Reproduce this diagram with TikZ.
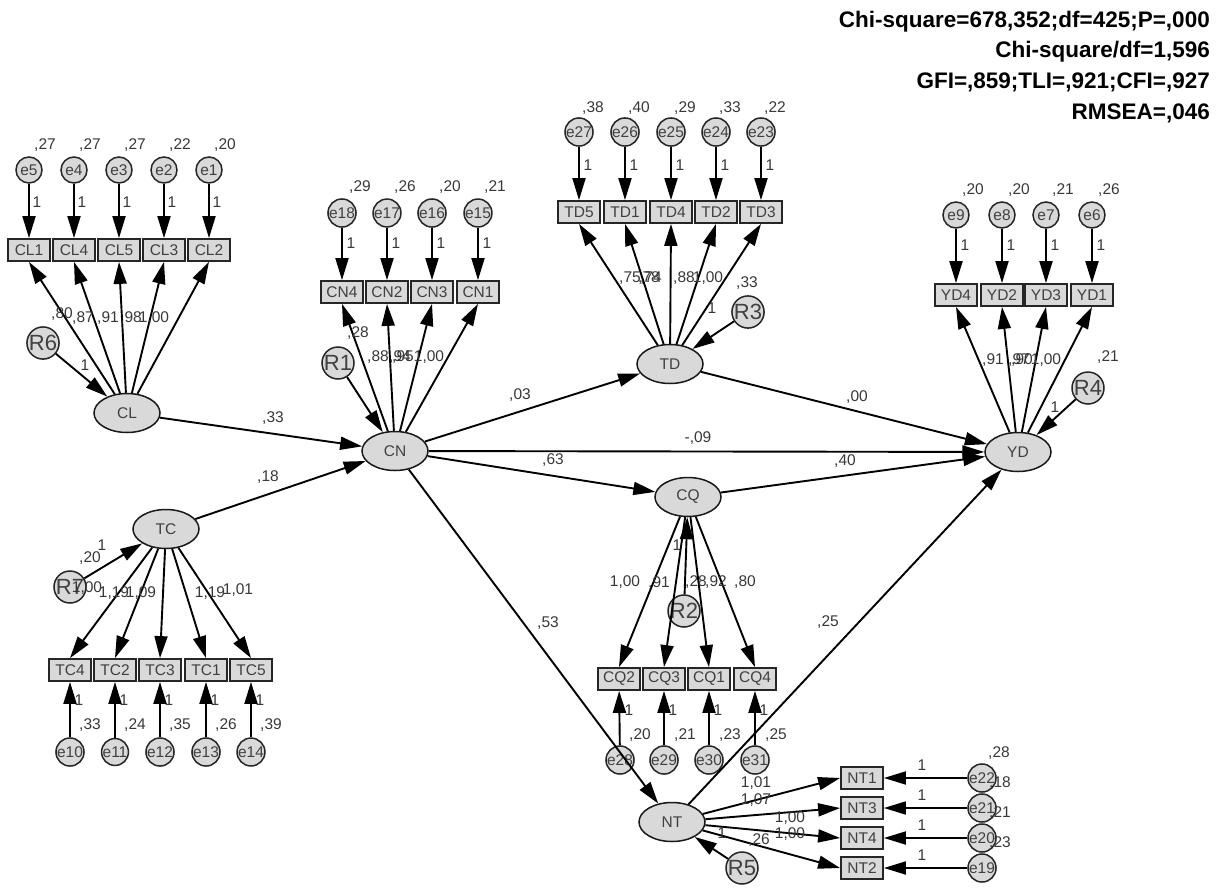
\documentclass[tikz,border=0pt]{standalone}
\usepackage{fontspec}
\setmainfont{Liberation Sans}
\usetikzlibrary{arrows.meta,shapes.geometric}
\begin{document}
\begin{tikzpicture}[x=1pt,y=-1pt,
  lat/.style={ellipse,draw=black!90,line width=1.5pt,fill=gray!30,minimum width=66pt,minimum height=39pt,inner sep=0pt,font=\fontsize{15.5}{15.5}\selectfont,text=black!75},
  obs/.style={rectangle,draw=black!85,line width=1.8pt,fill=gray!30,minimum width=42pt,minimum height=22pt,inner sep=0pt,font=\fontsize{15.5}{15.5}\selectfont,text=black!75},
  err/.style={circle,draw=black!85,line width=1.5pt,fill=gray!30,minimum size=26pt,inner sep=0pt,font=\fontsize{15.5}{15.5}\selectfont,text=black!75},
  res/.style={circle,draw=black!85,line width=1.5pt,fill=gray!30,minimum size=32pt,inner sep=0pt,font=\fontsize{22}{22}\selectfont,text=black!75},
  lab/.style={inner sep=0pt,font=\fontsize{15.5}{15.5}\selectfont,text=black!78},
  arr/.style={draw=black,line width=1.9pt,-{Triangle[length=22pt,width=13pt]}},
  fitt/.style={anchor=east,inner sep=0pt,font=\fontsize{22.5}{22.5}\selectfont\bfseries}
]
\useasboundingbox (0,0) rectangle (1219,892);
\fill[white] (0,0) rectangle (1219,892);

% ---------------- latent variables
\node[lat] (CL) at (127,413) {CL};
\node[lat] (CN) at (395,451) {CN};
\node[lat] (TD) at (670,364) {TD};
\node[lat] (YD) at (1018,452) {YD};
\node[lat] (TC) at (166,529) {TC};
\node[lat] (CQ) at (688,497) {CQ};
\node[lat] (NT) at (672,822) {NT};

% ---------------- residuals
\node[res] (R6) at (43,343) {R6};
\node[res] (R1) at (338,363) {R1};
\node[res] (R3) at (748,312) {R3};
\node[res] (R4) at (1088,388) {R4};
\node[res] (R7) at (70,587) {R7};
\node[res] (R2) at (684,611) {R2};
\node[res] (R5) at (742,868) {R5};

% ---------------- CL block
\node[obs] (CL1) at (29,250) {CL1};
\node[obs] (CL4) at (74,250) {CL4};
\node[obs] (CL5) at (119,250) {CL5};
\node[obs] (CL3) at (164,250) {CL3};
\node[obs] (CL2) at (209,250) {CL2};
\node[err] (e5) at (29,170) {e5};
\node[err] (e4) at (74,170) {e4};
\node[err] (e3) at (119,170) {e3};
\node[err] (e2) at (164,170) {e2};
\node[err] (e1) at (209,170) {e1};

% ---------------- CN block
\node[obs] (CN4) at (342,292) {CN4};
\node[obs] (CN2) at (387,292) {CN2};
\node[obs] (CN3) at (432,292) {CN3};
\node[obs] (CN1) at (478,292) {CN1};
\node[err] (e18) at (342,213) {e18};
\node[err] (e17) at (387,213) {e17};
\node[err] (e16) at (432,213) {e16};
\node[err] (e15) at (478,213) {e15};

% ---------------- TD block
\node[obs] (TD5) at (579,212) {TD5};
\node[obs] (TD1) at (625,212) {TD1};
\node[obs] (TD4) at (671,212) {TD4};
\node[obs] (TD2) at (716,212) {TD2};
\node[obs] (TD3) at (761,212) {TD3};
\node[err] (e27) at (579,132) {e27};
\node[err] (e26) at (625,132) {e26};
\node[err] (e25) at (671,132) {e25};
\node[err] (e24) at (716,132) {e24};
\node[err] (e23) at (761,132) {e23};

% ---------------- YD block
\node[obs] (YD4) at (956,295) {YD4};
\node[obs] (YD2) at (1002,295) {YD2};
\node[obs] (YD3) at (1046,295) {YD3};
\node[obs] (YD1) at (1092,295) {YD1};
\node[err] (e9) at (956,215) {e9};
\node[err] (e8) at (1002,215) {e8};
\node[err] (e7) at (1046,215) {e7};
\node[err] (e6) at (1092,215) {e6};

% ---------------- TC block
\node[obs] (TC4) at (70,670) {TC4};
\node[obs] (TC2) at (115,670) {TC2};
\node[obs] (TC3) at (160,670) {TC3};
\node[obs] (TC1) at (206,670) {TC1};
\node[obs] (TC5) at (251,670) {TC5};
\node[err] (e10) at (70,752) {e10};
\node[err] (e11) at (115,752) {e11};
\node[err] (e12) at (160,752) {e12};
\node[err] (e13) at (206,752) {e13};
\node[err] (e14) at (251,752) {e14};

% ---------------- CQ block
\node[obs] (CQ2) at (619,679) {CQ2};
\node[obs] (CQ3) at (664,679) {CQ3};
\node[obs] (CQ1) at (709,679) {CQ1};
\node[obs] (CQ4) at (755,679) {CQ4};
\node[err] (e28) at (620,760) {e28};
\node[err] (e29) at (664,760) {e29};
\node[err] (e30) at (709,760) {e30};
\node[err] (e31) at (755,760) {e31};

% ---------------- NT block
\node[obs] (NT1) at (862,778) {NT1};
\node[obs] (NT3) at (862,808) {NT3};
\node[obs] (NT4) at (862,838) {NT4};
\node[obs] (NT2) at (862,868) {NT2};
\node[err] (e22) at (982,778) {e22};
\node[err] (e21) at (982,808) {e21};
\node[err] (e20) at (982,838) {e20};
\node[err] (e19) at (982,868) {e19};

% ---------------- measurement arrows
\foreach \e/\b in {e5/CL1,e4/CL4,e3/CL5,e2/CL3,e1/CL2,e18/CN4,e17/CN2,e16/CN3,e15/CN1,
  e27/TD5,e26/TD1,e25/TD4,e24/TD2,e23/TD3,e9/YD4,e8/YD2,e7/YD3,e6/YD1,
  e10/TC4,e11/TC2,e12/TC3,e13/TC1,e14/TC5,e28/CQ2,e29/CQ3,e30/CQ1,e31/CQ4,
  e22/NT1,e21/NT3,e20/NT4,e19/NT2}
  \draw[arr] (\e) -- (\b);
\foreach \b in {CL1,CL4,CL5,CL3,CL2} \draw[arr] (CL) -- (\b.south);
\foreach \b in {CN4,CN2,CN3,CN1} \draw[arr] (CN) -- (\b.south);
\foreach \b in {TD5,TD1,TD4,TD2,TD3} \draw[arr] (TD) -- (\b.south);
\foreach \b in {YD4,YD2,YD3,YD1} \draw[arr] (YD) -- (\b.south);
\foreach \b in {TC4,TC2,TC3,TC1,TC5} \draw[arr] (TC) -- (\b.north);
\foreach \b in {CQ2,CQ3,CQ1,CQ4} \draw[arr] (CQ) -- (\b.north);
\foreach \b in {NT1,NT3,NT4,NT2} \draw[arr] (NT) -- (\b.west);

% residual arrows
\draw[arr] (R6) -- (CL);
\draw[arr] (R1) -- (CN);
\draw[arr] (R3) -- (TD);
\draw[arr] (R4) -- (YD);
\draw[arr] (R7) -- (TC);
\draw[arr] (R2) -- (CQ);
\draw[arr] (R5) -- (NT);

% structural arrows
\draw[arr] (CL) -- (CN);
\draw[arr] (TC) -- (CN);
\draw[arr] (CN) -- (TD);
\draw[arr] (CN) -- (YD);
\draw[arr] (CN) -- (CQ);
\draw[arr] (CN) -- (NT);
\draw[arr] (TD) -- (YD);
\draw[arr] (CQ) -- (YD);
\draw[arr] (NT) -- (YD);

% ---------------- labels
% CL
\foreach \x/\t in {45/{,27},90/{,27},135/{,27},180/{,22},225/{,20}} \node[lab] at (\x,145) {\t};
\foreach \x in {37,82,127,172,217} \node[lab] at (\x,202) {1};
\node[lab] at (62,314) {,80};
\node[lab] at (83,318) {,87};
\node[lab] at (108,318) {,91};
\node[lab] at (131,318) {,98};
\node[lab] at (154,318) {1,00};
\node[lab] at (85,365) {1};
% CN
\foreach \x/\t in {360/{,29},405/{,26},450/{,20},495/{,21}} \node[lab] at (\x,187) {\t};
\foreach \x in {351,396,441,487} \node[lab] at (\x,243) {1};
\node[lab] at (358,333) {,28};
\node[lab] at (378,357) {,88};
\node[lab] at (400,357) {,94};
\node[lab] at (403,357) {,95};
\node[lab] at (429,357) {1,00};
% TD
\foreach \x/\t in {593/{,38},639/{,40},685/{,29},730/{,33},775/{,22}} \node[lab] at (\x,108) {\t};
\foreach \x in {588,634,680,725,770} \node[lab] at (\x,165) {1};
\node[lab] at (630,278) {,75};
\node[lab] at (649,278) {,78};
\node[lab] at (651,278) {,74};
\node[lab] at (684,278) {,88};
\node[lab] at (708,278) {1,00};
\node[lab] at (747,283) {,33};
\node[lab] at (712,308) {1};
% YD
\foreach \x/\t in {973/{,20},1019/{,20},1063/{,21},1109/{,26}} \node[lab] at (\x,190) {\t};
\foreach \x in {965,1011,1055,1101} \node[lab] at (\x,245) {1};
\node[lab] at (993,360) {,91};
\node[lab] at (1019,360) {,97};
\node[lab] at (1022,360) {,90};
\node[lab] at (1046,360) {1,00};
\node[lab] at (1108,357) {,21};
\node[lab] at (1055,407) {1};
% TC
\node[lab] at (90,558) {,20};
\node[lab] at (102,545) {1};
\node[lab] at (87,588) {1,00};
\node[lab] at (114,593) {1,19};
\node[lab] at (141,593) {1,09};
\node[lab] at (210,593) {1,19};
\node[lab] at (238,590) {1,01};
\foreach \x/\t in {90/{,33},135/{,24},180/{,35},226/{,26},271/{,39}} \node[lab] at (\x,725) {\t};
\foreach \x in {79,124,169,215,260} \node[lab] at (\x,700) {1};
% CQ
\node[lab] at (625,582) {1,00};
\node[lab] at (659,583) {,91};
\node[lab] at (696,582) {,28};
\node[lab] at (716,582) {,92};
\node[lab] at (745,582) {,80};
\node[lab] at (677,545) {1};
\foreach \x/\t in {640/{,20},685/{,21},730/{,23},776/{,25}} \node[lab] at (\x,735) {\t};
\foreach \x in {629,673,718,764} \node[lab] at (\x,710) {1};
% NT
\node[lab] at (756,783) {1,01};
\node[lab] at (756,800) {1,07};
\node[lab] at (790,818) {1,00};
\node[lab] at (790,834) {1,00};
\node[lab] at (759,840) {,26};
\node[lab] at (722,833) {1};
\foreach \y in {765,795,825,855} \node[lab] at (922,\y) {1};
\node[lab] at (999,753) {,28};
\node[lab] at (1000,783) {,18};
\node[lab] at (1000,813) {,21};
\node[lab] at (1000,843) {,23};
% structural
\node[lab] at (273,418) {,33};
\node[lab] at (268,477) {,18};
\node[lab] at (520,395) {,03};
\node[lab] at (698,438) {-,09};
\node[lab] at (553,460) {,63};
\node[lab] at (548,623) {,53};
\node[lab] at (857,397) {,00};
\node[lab] at (845,461) {,40};
\node[lab] at (828,622) {,25};

% ---------------- fit indices
\node[fitt] at (1210,22) {Chi-square=678,352;df=425;P=,000};
\node[fitt] at (1210,52) {Chi-square/df=1,596};
\node[fitt] at (1210,82) {GFI=,859;TLI=,921;CFI=,927};
\node[fitt] at (1210,113) {RMSEA=,046};
\end{tikzpicture}
\end{document}
